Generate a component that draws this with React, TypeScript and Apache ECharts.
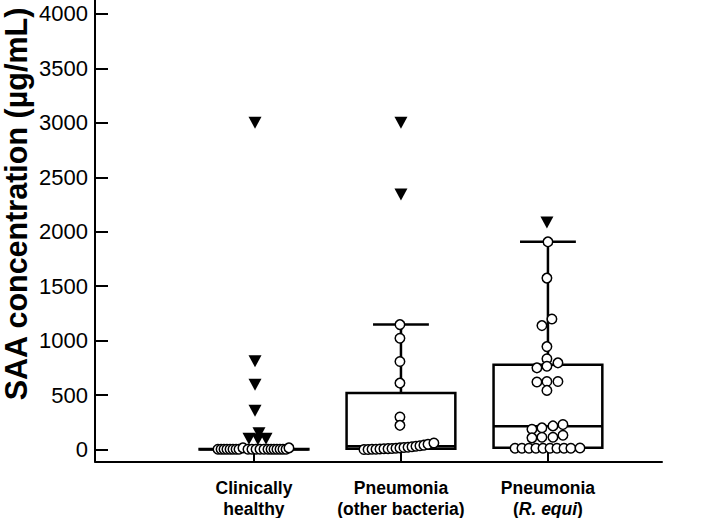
import React, { useEffect, useRef } from "react";
import * as echarts from "echarts";

const categoryLabels = [
  "{b|Clinically}\n{b|healthy}",
  "{b|Pneumonia}\n{b|(other bacteria)}",
  "{b|Pneumonia}\n{b|(}{i|R. equi}{b|)}",
];
const categoryPositions = [1, 2, 3];
const yTicks = [0, 500, 1000, 1500, 2000, 2500, 3000, 3500, 4000];

// box stats: [min, Q1, median, Q3, max]
const boxStats = [
  [0, 0, 3, 5, 12],
  [0, 8, 30, 519, 1147],
  [0, 16, 213, 778, 1907],
];

// individual values (open circles) and horizontal jitter (in category units)
const healthyValues = [3, 3, 3, 3, 3, 3, 3, 3, 15, 3, 3, 3, 3, 3, 3, 3, 3, 3, 3, 3, 3, 15];
const healthyJitter = [-0.245, -0.224, -0.204, -0.184, -0.163, -0.143, -0.122, -0.102, -0.075, -0.041, -0.014, 0.014, 0.041, 0.068, 0.095, 0.116, 0.136, 0.156, 0.177, 0.197, 0.218, 0.238];

const otherValues = [1147, 1022, 808, 610, 299, 222, 0, 0, 2, 3, 5, 7, 8, 10, 12, 15, 18, 21, 25, 30, 35, 40, 48, 60];
const otherJitter = [-0.007, -0.007, -0.007, -0.007, -0.007, -0.007, -0.252, -0.224, -0.197, -0.17, -0.143, -0.116, -0.088, -0.061, -0.034, -0.007, 0.02, 0.048, 0.075, 0.102, 0.129, 0.156, 0.184, 0.224];

const requiValues = [1907, 1574, 1199, 1138, 945, 833, 796, 750, 765, 620, 625, 625, 543, 186, 199, 217, 229, 107, 113, 113, 131, 12, 12, 12, 12, 12, 12, 12, 12, 12, 14];
const requiJitter = [0, -0.007, 0.027, -0.041, -0.007, -0.007, 0.068, -0.075, -0.007, -0.075, -0.007, 0.068, -0.007, -0.109, -0.041, 0.034, 0.102, -0.109, -0.041, 0.034, 0.102, -0.224, -0.177, -0.129, -0.082, -0.034, 0.014, 0.061, 0.109, 0.156, 0.218];

// outliers (filled triangles)
const healthyOutliers = [3000, 810, 595, 357, 150, 100, 95, 100];
const healthyOutlierJitter = [0.007, 0.007, 0.007, 0.007, 0.034, -0.034, 0.027, 0.082];
const otherOutliers = [3000, 2343];
const otherOutlierJitter = [0, 0];
const requiOutliers = [2084];
const requiOutlierJitter = [-0.007];

const BOX_HALF = 0.37;
const CAP_HALF = 0.19;
const FONT = "'Liberation Sans', Arial, Helvetica, sans-serif";

function pts(center: number, values: number[], jitter: number[]) {
  return values.map((v, i) => [center + jitter[i], v]);
}

export default function App() {
  const ref = useRef<HTMLDivElement>(null);
  useEffect(() => {
    document.body.style.margin = "0";
    const chart = echarts.init(ref.current!, undefined, { renderer: "svg" });
    const circleData = [
      ...pts(categoryPositions[0], healthyValues, healthyJitter),
      ...pts(categoryPositions[1], otherValues, otherJitter),
      ...pts(categoryPositions[2], requiValues, requiJitter),
    ];
    const triData = [
      ...pts(categoryPositions[0], healthyOutliers, healthyOutlierJitter),
      ...pts(categoryPositions[1], otherOutliers, otherOutlierJitter),
      ...pts(categoryPositions[2], requiOutliers, requiOutlierJitter),
    ];
    const lineStyle = { stroke: "#000", lineWidth: 2.5 };
    chart.setOption({
      animation: false,
      backgroundColor: "#fff",
      grid: { left: 95, right: 47, top: 0, bottom: 55 },
      xAxis: {
        type: "value",
        min: -0.0816,
        max: 3.776,
        splitLine: { show: false },
        axisLine: { show: true, onZero: false, lineStyle: { color: "#000", width: 2 } },
        axisTick: { show: true, inside: true, length: 12, customValues: categoryPositions, lineStyle: { color: "#000", width: 2 } },
        axisLabel: {
          customValues: categoryPositions,
          margin: 16,
          color: "#000",
          formatter: (v: number) => categoryLabels[categoryPositions.indexOf(Math.round(v))] ?? "",
          rich: {
            b: { fontFamily: FONT, fontWeight: "bold", fontSize: 17.5, lineHeight: 21, color: "#000" },
            i: { fontFamily: FONT, fontWeight: "bold", fontStyle: "italic", fontSize: 17.5, lineHeight: 21, color: "#000" },
          },
        },
      },
      yAxis: {
        type: "value",
        min: -110,
        max: 4128,
        splitLine: { show: false },
        axisLine: { show: true, onZero: false, lineStyle: { color: "#000", width: 2 } },
        axisTick: { show: true, inside: true, length: 13, customValues: yTicks, lineStyle: { color: "#000", width: 2 } },
        axisLabel: {
          customValues: yTicks,
          margin: 7,
          color: "#000",
          fontFamily: FONT,
          fontSize: 22,
          formatter: (v: number) => String(v),
        },
      },
      graphic: [
        {
          type: "text",
          x: 16,
          y: 204,
          rotation: Math.PI / 2,
          style: {
            text: "SAA concentration (µg/mL)",
            fontFamily: FONT,
            fontWeight: "bold",
            fontSize: 30.5,
            fill: "#000",
            align: "center",
            verticalAlign: "middle",
          },
        },
      ],
      series: [
        {
          type: "custom",
          z: 2,
          data: boxStats.map((s, i) => [categoryPositions[i], ...s]),
          renderItem: (_p: any, api: any) => {
            const x = api.value(0);
            const lo = api.value(1), q1 = api.value(2), med = api.value(3), q3 = api.value(4), hi = api.value(5);
            const tl = api.coord([x - BOX_HALF, q3]);
            const br = api.coord([x + BOX_HALF, q1]);
            const mL = api.coord([x - BOX_HALF, med]);
            const mR = api.coord([x + BOX_HALF, med]);
            const top = api.coord([x, hi]);
            const qTop = api.coord([x, q3]);
            const bot = api.coord([x, lo]);
            const qBot = api.coord([x, q1]);
            const cL = api.coord([x - CAP_HALF, hi]);
            const cR = api.coord([x + CAP_HALF, hi]);
            return {
              type: "group",
              children: [
                { type: "rect", shape: { x: tl[0], y: tl[1], width: br[0] - tl[0], height: br[1] - tl[1] }, style: { fill: "none", ...lineStyle } },
                { type: "line", shape: { x1: mL[0], y1: mL[1], x2: mR[0], y2: mR[1] }, style: lineStyle },
                { type: "line", shape: { x1: qTop[0], y1: qTop[1], x2: top[0], y2: top[1] }, style: lineStyle },
                { type: "line", shape: { x1: cL[0], y1: cL[1], x2: cR[0], y2: cR[1] }, style: lineStyle },
                { type: "line", shape: { x1: qBot[0], y1: qBot[1], x2: bot[0], y2: bot[1] }, style: lineStyle },
              ],
            };
          },
        },
        {
          type: "scatter",
          z: 3,
          symbol: "circle",
          symbolSize: 9.5,
          itemStyle: { color: "#fff", borderColor: "#000", borderWidth: 1.5, opacity: 1 },
          data: circleData,
        },
        {
          type: "scatter",
          z: 4,
          symbol: "triangle",
          symbolRotate: 180,
          symbolSize: [13, 12],
          itemStyle: { color: "#000", opacity: 1 },
          data: triData,
        },
      ],
    });
    return () => chart.dispose();
  }, []);
  return (
    <div
      ref={ref}
      style={{ position: "fixed", left: 0, top: 0, width: 709, height: 518 }}
    />
  );
}
